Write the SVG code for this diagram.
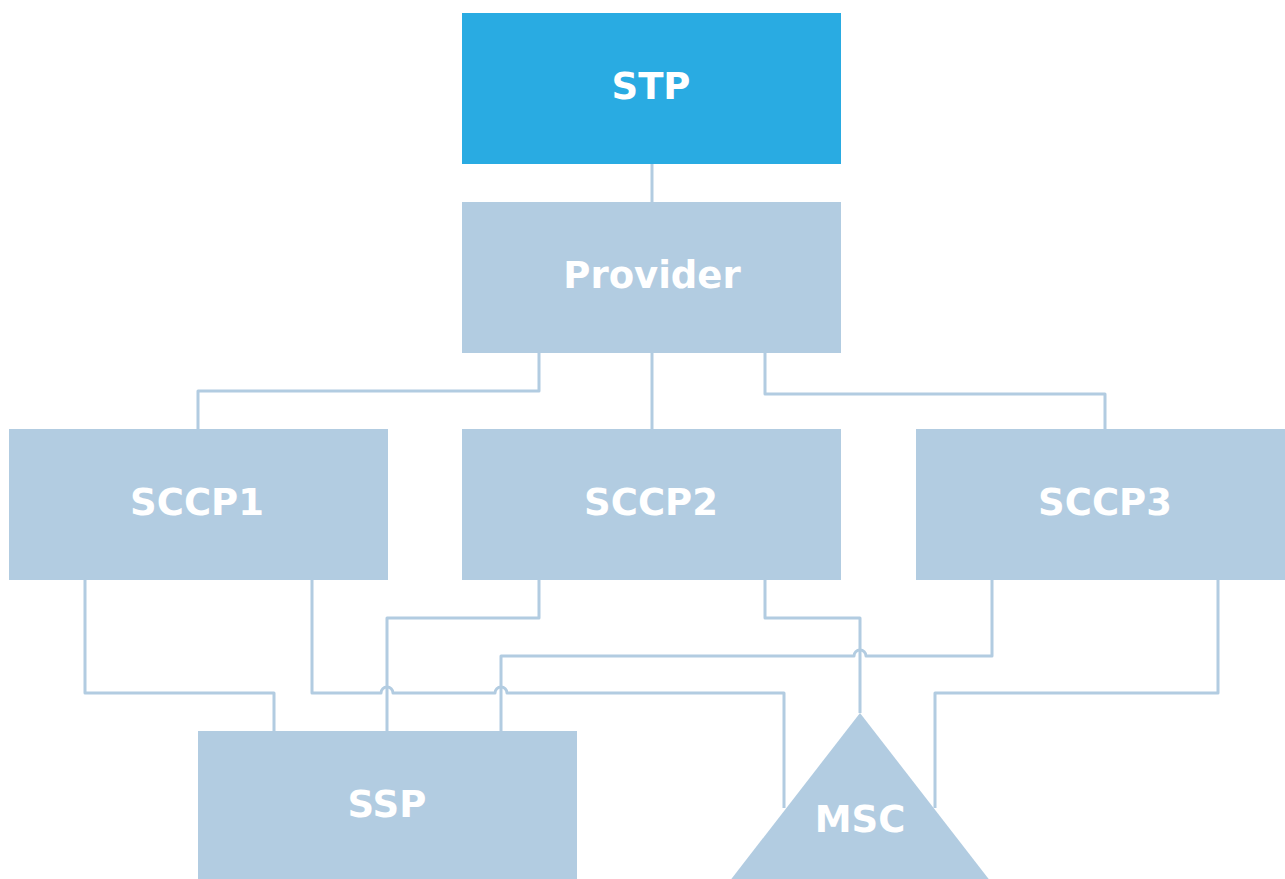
<svg xmlns="http://www.w3.org/2000/svg" width="1285" height="879" viewBox="0 0 1285 879">
  <style>
    .node { fill: #B2CCE1; }
    .root { fill: #29ABE2; }
    .label { font-family: "DejaVu Sans", Verdana, sans-serif; font-weight: bold; font-size: 37px; fill: #FFFFFF; text-anchor: middle; }
    .link { fill: none; stroke: #B2CCE1; stroke-width: 3; stroke-linejoin: round; }
  </style>
  <rect width="1285" height="879" fill="#FFFFFF"/>

  <!-- connectors (hops drawn as small arcs where lines cross) -->
  <g id="connectors">
    <path class="link" d="M652,164 V202"/>
    <path class="link" d="M539,353 V391 H198 V429"/>
    <path class="link" d="M652,353 V429"/>
    <path class="link" d="M765,353 V394 H1105 V429"/>
    <path class="link" d="M85,580 V693 H274 V731"/>
    <path class="link" d="M312,580 V693 H381 A6,6 0 0 1 393,693 H495 A6,6 0 0 1 507,693 H784 V808"/>
    <path class="link" d="M539,580 V618 H387 V731"/>
    <path class="link" d="M765,580 V618 H860 V713"/>
    <path class="link" d="M992,580 V656 H866 A6,6 0 0 0 854,656 H501 V731"/>
    <path class="link" d="M1218,580 V693 H935 V808"/>
  </g>

  <g id="stp">
    <rect class="root" x="462" y="13" width="379" height="151"/>
    <text class="label" x="651" y="99">STP</text>
  </g>
  <g id="provider">
    <rect class="node" x="462" y="202" width="379" height="151"/>
    <text class="label" x="652" y="288">Provider</text>
  </g>
  <g id="sccp1">
    <rect class="node" x="9" y="429" width="379" height="151"/>
    <text class="label" x="197" y="515">SCCP1</text>
  </g>
  <g id="sccp2">
    <rect class="node" x="462" y="429" width="379" height="151"/>
    <text class="label" x="651" y="515">SCCP2</text>
  </g>
  <g id="sccp3">
    <rect class="node" x="916" y="429" width="379" height="151"/>
    <text class="label" x="1105" y="515">SCCP3</text>
  </g>
  <g id="ssp">
    <rect class="node" x="198" y="731" width="379" height="151"/>
    <text class="label" x="387" y="817">SSP</text>
  </g>
  <g id="msc">
    <polygon class="node" points="860,713 991,882 729,882"/>
    <text class="label" x="860" y="832">MSC</text>
  </g>
</svg>
